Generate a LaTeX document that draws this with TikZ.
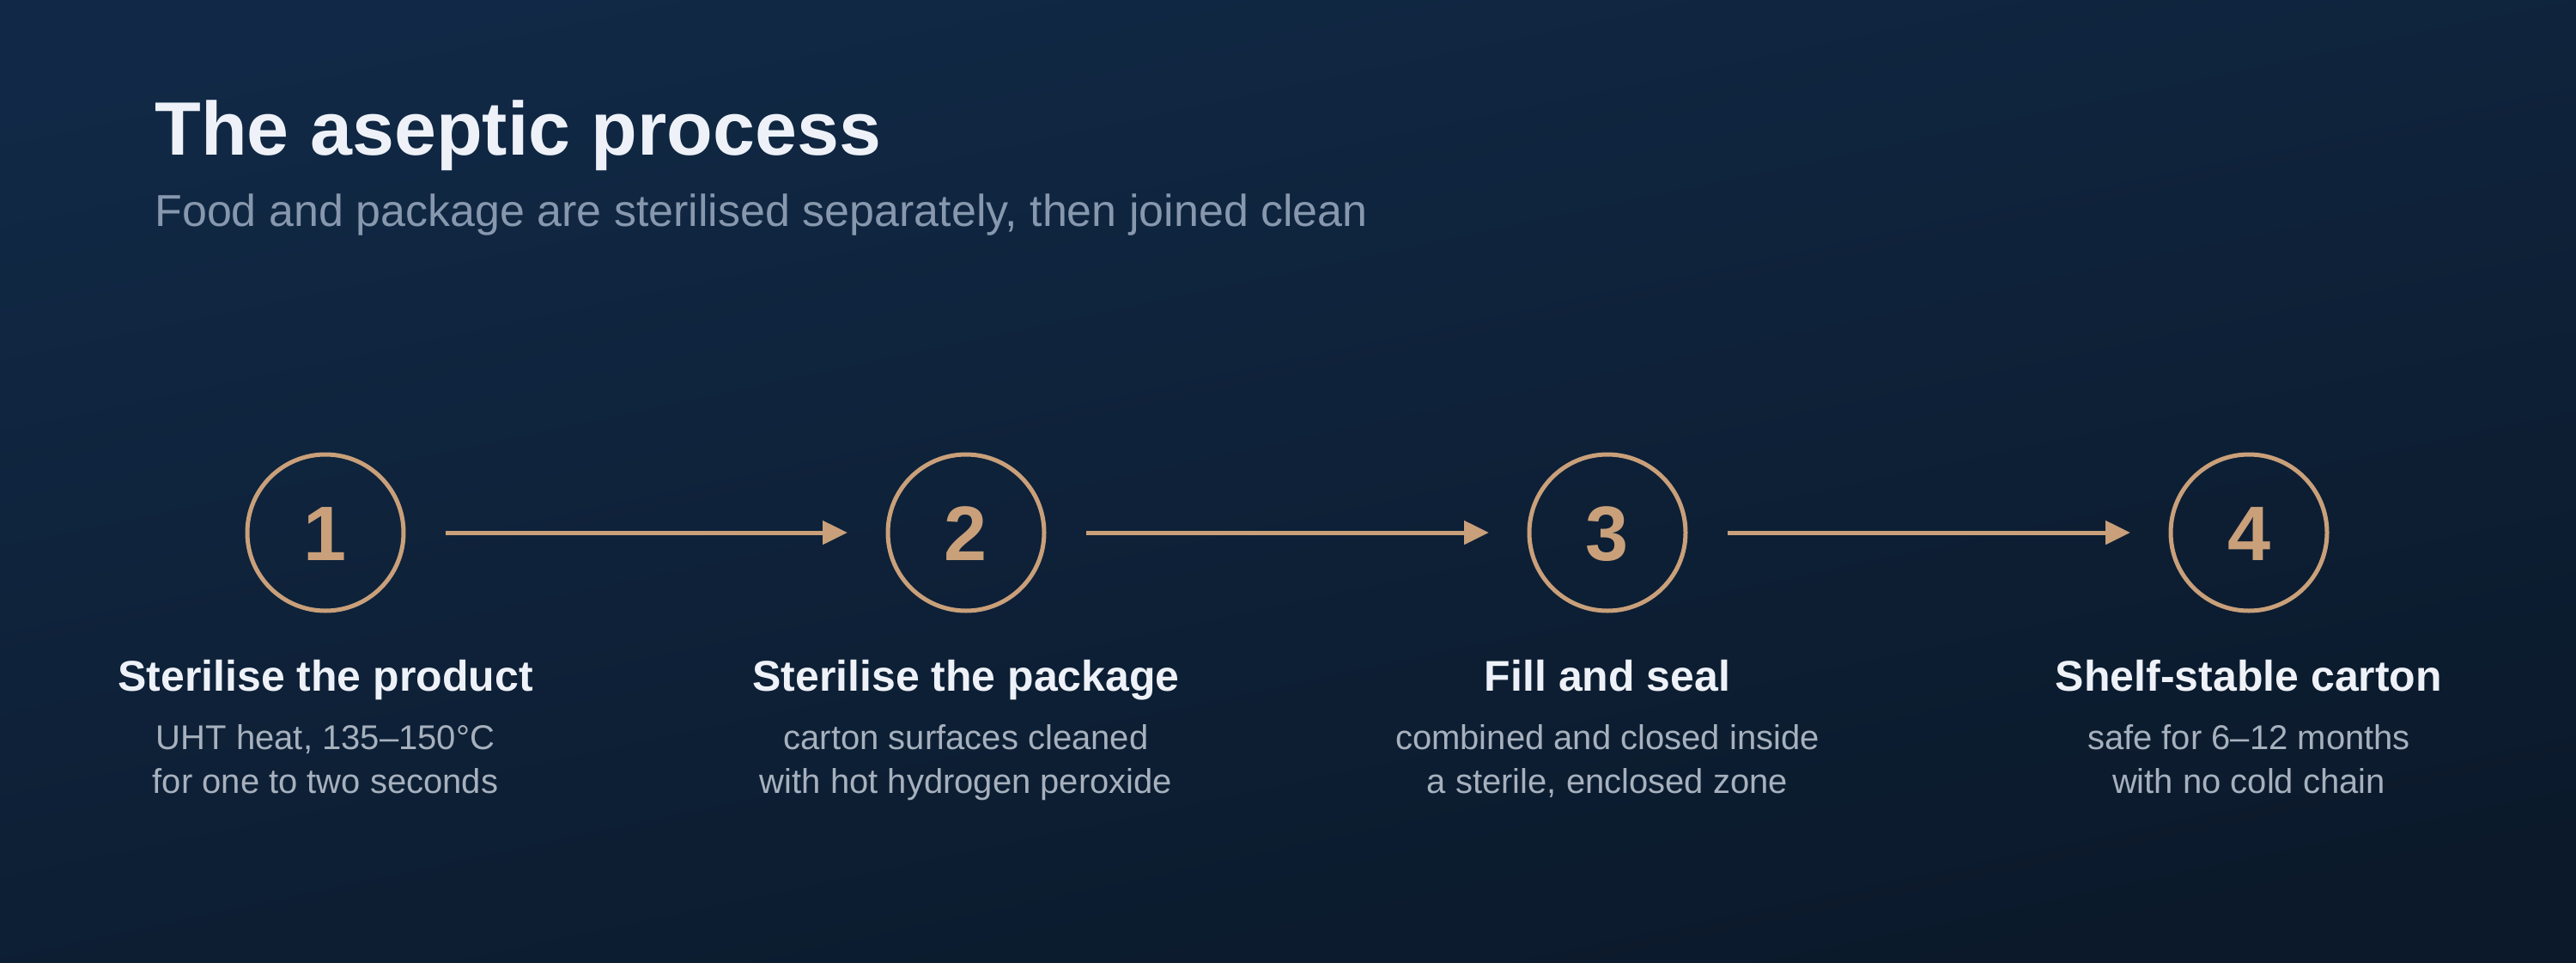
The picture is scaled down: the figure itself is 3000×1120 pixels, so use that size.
\documentclass[tikz,border=0pt]{standalone}
\usepackage{fontspec}
\setmainfont{Liberation Sans}
\usetikzlibrary{arrows.meta}
\definecolor{bgtop}{RGB}{17,41,70}
\definecolor{bgbot}{RGB}{11,25,42}
\definecolor{tan}{RGB}{201,160,122}
\definecolor{titlecol}{RGB}{238,242,248}
\definecolor{subcol}{RGB}{135,152,174}
\definecolor{desccol}{RGB}{167,177,190}
\tikzset{
  stepcircle/.style={circle, draw=tan, line width=2.5pt, minimum size=91pt, inner sep=0pt},
  digit/.style={text=tan, font=\fontsize{45}{45}\selectfont\bfseries, anchor=base, inner sep=0pt},
  steplabel/.style={text=titlecol, font=\fontsize{25}{25}\selectfont\bfseries, anchor=base, inner sep=0pt},
  stepdesc/.style={text=desccol, font=\fontsize{20}{25.5}\selectfont, anchor=base, inner sep=0pt, align=center},
  flow/.style={draw=tan, line width=2.5pt, -{Triangle[length=14.5pt,width=13.5pt]}, shorten >=-1pt},
}
\begin{document}
\begin{tikzpicture}[x=0.5pt,y=-0.5pt]
\useasboundingbox (0,0) rectangle (3000,1120);
\shade[top color=bgtop, bottom color=bgbot, shading angle=12] (-20,-20) rectangle (3020,1140);
\node[anchor=base west, inner sep=0pt, text=titlecol, font=\fontsize{44}{44}\selectfont\bfseries] (title) at (180,180) {The aseptic process};
\node[anchor=base west, inner sep=0pt, text=subcol, font=\fontsize{26}{26}\selectfont] (subtitle) at (180,263) {Food and package are sterilised separately, then joined clean};
\foreach \i/\x/\lab/\da/\db in {
  1/379/Sterilise the product/{UHT heat, 135–150°C}/for one to two seconds,
  2/1125/Sterilise the package/carton surfaces cleaned/with hot hydrogen peroxide,
  3/1872/Fill and seal/combined and closed inside/{a sterile, enclosed zone},
  4/2619/Shelf-stable carton/safe for 6–12 months/with no cold chain}{
  \node[stepcircle] (c\i) at (\x,620) {};
  \node[digit] (d\i) at (\x,652) {\i};
  \node[steplabel] (l\i) at (\x,804) {\lab};
  \node[stepdesc] (da\i) at (\x,872) {\da};
  \node[stepdesc] (db\i) at (\x,923) {\db};
}
\foreach \a/\b in {1/2,2/3,3/4}{
  \draw[flow] ([xshift=70pt]c\a.center) -- ([xshift=-70pt]c\b.center);
}
\end{tikzpicture}
\end{document}
